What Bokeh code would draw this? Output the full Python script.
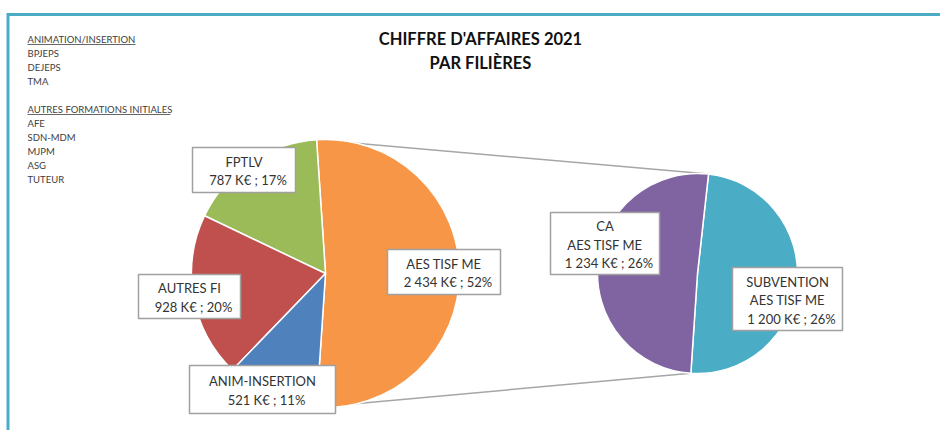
import numpy as np
from bokeh.plotting import figure
from bokeh.models import Range1d
from bokeh.core.properties import value
from bokeh.embed import file_html
from bokeh.resources import INLINE

# ---------------- data ----------------
title_lines = ["CHIFFRE D'AFFAIRES 2021", "PAR FILIÈRES"]

main_names = ["AES TISF ME", "FPTLV", "AUTRES FI", "ANIM-INSERTION"]
main_values = [2434, 787, 928, 521]          # K€
main_colors = ["#F79646", "#9BBB59", "#C0504D", "#4F81BD"]

sub_names = [["SUBVENTION", "AES TISF ME"], ["CA", "AES TISF ME"]]
sub_values = [1200, 1234]                    # K€ (split of AES TISF ME)
sub_colors = ["#4BACC6", "#8064A2"]

side_group1 = "ANIMATION/INSERTION"
side_items1 = ["BPJEPS", "DEJEPS", "TMA"]
side_group2 = "AUTRES FORMATIONS INITIALES"
side_items2 = ["AFE", "SDN-MDM", "MJPM", "ASG", "TUTEUR"]

# ---------------- layout (page pixels) ----------------
W, H = 940, 430
def Y(py):
    return H - py

FONT = value("Lato")
TXT = "#333333"

main_c = (325, 273)
main_r = 134
sub_c = (697, 273)
sub_r = 100

# label boxes: center x, center y, width, height (page px)
main_boxes = [(443.5, 271.5, 113, 45), (243.5, 169.5, 103, 45),
              (189, 296, 102, 44), (262, 389, 146, 48)]
sub_boxes = [(787, 298.5, 110, 63), (604.5, 243, 109, 62)]

total = sum(main_values)

def fmt(v):
    return f"{v:,}".replace(",", " ") + " K€ ; " + f"{round(100 * v / total)}%"

p = figure(width=W, height=H, x_range=Range1d(0, W), y_range=Range1d(0, H),
           output_backend="svg", toolbar_location=None,
           x_axis_type=None, y_axis_type=None, min_border=0)
p.outline_line_color = None
p.background_fill_color = "white"
p.border_fill_color = "white"

# frame lines (blue)
p.line([7.5, W], [Y(14), Y(14)], line_color="#4BACC6", line_width=3)
p.line([7.5, 7.5], [Y(12.5), Y(440)], line_color="#4BACC6", line_width=3)

# ---------------- pies ----------------
theta = 2 * np.pi * main_values[0] / total
start = -theta / 2
angs = [start]
for v in main_values:
    angs.append(angs[-1] + 2 * np.pi * v / total)
mcx, mcy = main_c[0], Y(main_c[1])

sub_total = sum(sub_values)
sangs = [start]
for v in sub_values:
    sangs.append(sangs[-1] + 2 * np.pi * v / sub_total)
scx, scy = sub_c[0], Y(sub_c[1])

# connector lines
top_a = sangs[1]
p.line([mcx + main_r * np.cos(theta / 2), scx + sub_r * np.cos(top_a)],
       [mcy + main_r * np.sin(theta / 2), scy + sub_r * np.sin(top_a)],
       line_color="#A6A6A6", line_width=1.5)
p.line([mcx + main_r * np.cos(-theta / 2), scx + sub_r * np.cos(sangs[0])],
       [mcy + main_r * np.sin(-theta / 2), scy + sub_r * np.sin(sangs[0])],
       line_color="#A6A6A6", line_width=1.5)

p.wedge(x=[mcx] * 4, y=[mcy] * 4, radius=main_r,
        start_angle=angs[:-1], end_angle=angs[1:], direction="anticlock",
        fill_color=main_colors, line_color="white", line_width=1.5)
p.wedge(x=[scx] * 2, y=[scy] * 2, radius=sub_r,
        start_angle=sangs[:-1], end_angle=sangs[1:], direction="anticlock",
        fill_color=sub_colors, line_color="white", line_width=1.5)

# ---------------- labels ----------------
LS = 18.5
VDX = 4

def draw_box(box, lines):
    cx, cy, w, h = box
    p.rect(x=[cx], y=[Y(cy)], width=w, height=h, fill_color="white",
           line_color="#A0A0A0", line_width=1.5)
    n = len(lines)
    for i, t in enumerate(lines):
        off = (i - (n - 1) / 2) * LS + 1
        dx = VDX if i == n - 1 else 0
        p.text(x=[cx + dx], y=[Y(cy + off)], text=[t], text_font=FONT,
               text_font_size="13px", text_color=TXT,
               text_align="center", text_baseline="middle")

for name, v, box in zip(main_names, main_values, main_boxes):
    draw_box(box, [name, fmt(v)])
for names, v, box in zip(sub_names, sub_values, sub_boxes):
    draw_box(box, names + [fmt(v)])

# ---------------- title ----------------
for t, py in zip(title_lines, [38, 62]):
    p.text(x=[480], y=[Y(py)], text=[t], text_font=FONT, text_font_size="16.5px",
           text_font_style="bold", text_color="#111111",
           text_align="center", text_baseline="middle")

# ---------------- side notes ----------------
def side_block(header, items, py0):
    p.text(x=[27], y=[Y(py0)], text=[header], text_font=FONT, text_font_size="9.5px",
           text_color="#404040", text_align="left", text_baseline="middle")
    for i, t in enumerate(items):
        p.text(x=[27], y=[Y(py0 + 14 * (i + 1))], text=[t], text_font=FONT,
               text_font_size="9.5px", text_color="#404040", text_align="left",
               text_baseline="middle")

side_block(side_group1, side_items1, 39)
side_block(side_group2, side_items2, 109)
p.line([27, 135], [Y(44), Y(44)], line_color="#404040", line_width=0.8)
p.line([27, 170], [Y(114), Y(114)], line_color="#404040", line_width=0.8)

open("out.html", "w").write(file_html(p, INLINE))
